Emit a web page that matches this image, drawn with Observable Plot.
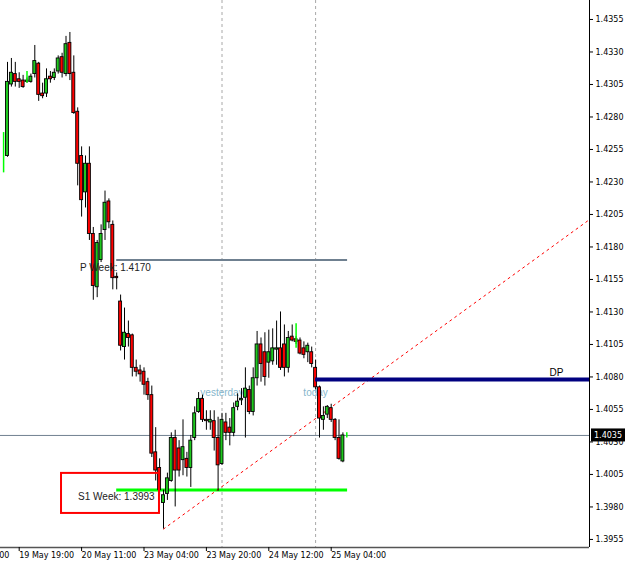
<!DOCTYPE html>
<html>
<head>
<meta charset="utf-8">
<script src="https://cdn.jsdelivr.net/npm/d3@7"></script>
<script src="https://cdn.jsdelivr.net/npm/@observablehq/plot@0.6"></script>
<style>
  html, body { margin: 0; padding: 0; background: #fff; }
  #chart svg { display: block; }
</style>
</head>
<body>
<div id="chart"></div>
<script>
// ---- hourly candles (bar index 0..86) ----
const opens  = [1.4250,1.4305,1.4313,1.4309,1.4308,1.4307,1.4307,1.4313,1.4321,1.4298,
                1.4298,1.4311,1.4310,1.4315,1.4326,1.4313,1.4337,1.4314,1.4284,1.4250,
                1.4222,1.4244,1.4190,1.4149,1.4170,1.4193,1.4215,1.4197,1.4157,1.4138,
                1.4103,1.4113,1.4112,1.4087,1.4085,1.4084,1.4076,1.4066,1.4022,1.4010,
                1.3983,1.3990,1.4000,1.4033,1.4025,1.4016,1.4017,1.4010,1.4033,1.4053,
                1.4063,1.4047,1.4045,1.4046,1.4033,1.4013,1.4045,1.4041,1.4037,1.4057,
                1.4062,1.4064,1.4070,1.4053,1.4079,1.4105,1.4099,1.4091,1.4092,1.4101,
                1.4102,1.4105,1.4087,1.4111,1.4109,1.4108,1.4102,1.4099,1.4099,1.4087,
                1.4072,1.4047,1.4051,1.4056,1.4047,1.4033,1.4015];
const highs  = [1.4322,1.4325,1.4322,1.4314,1.4312,1.4310,1.4313,1.4335,1.4322,1.4306,
                1.4317,1.4315,1.4317,1.4327,1.4329,1.4342,1.4345,1.4327,1.4287,1.4257,
                1.4250,1.4257,1.4195,1.4185,1.4197,1.4223,1.4217,1.4200,1.4160,1.4143,
                1.4133,1.4123,1.4113,1.4093,1.4089,1.4087,1.4079,1.4073,1.4041,1.4017,
                1.3993,1.4006,1.4037,1.4039,1.4031,1.4047,1.4022,1.4035,1.4057,1.4068,
                1.4066,1.4054,1.4054,1.4054,1.4049,1.4052,1.4052,1.4048,1.4060,1.4067,
                1.4071,1.4087,1.4073,1.4087,1.4115,1.4110,1.4114,1.4116,1.4117,1.4123,
                1.4130,1.4120,1.4115,1.4120,1.4111,1.4110,1.4107,1.4106,1.4103,1.4093,
                1.4073,1.4057,1.4058,1.4059,1.4048,1.4047,1.4037];
const lows   = [1.4249,1.4303,1.4303,1.4302,1.4302,1.4306,1.4306,1.4310,1.4292,1.4294,
                1.4295,1.4306,1.4308,1.4313,1.4310,1.4311,1.4308,1.4282,1.4227,1.4203,
                1.4210,1.4185,1.4139,1.4141,1.4168,1.4185,1.4194,1.4147,1.4147,1.4100,
                1.4093,1.4103,1.4080,1.4080,1.4076,1.4066,1.4062,1.4018,1.4000,1.3989,
                1.3963,1.3985,1.3999,1.3980,1.4003,1.4004,1.4003,1.3995,1.4031,1.4052,
                1.4045,1.4039,1.4039,1.4023,1.3992,1.4012,1.4031,1.4027,1.4034,1.4054,
                1.4058,1.4033,1.4051,1.4050,1.4073,1.4076,1.4073,1.4079,1.4089,1.4089,
                1.4085,1.4080,1.4083,1.4107,1.4105,1.4097,1.4094,1.4091,1.4087,1.4070,
                1.4033,1.4039,1.4048,1.4045,1.4031,1.4016,1.4014];
const closes = [1.4307,1.4314,1.4307,1.4307,1.4303,1.4308,1.4311,1.4323,1.4297,1.4296,
                1.4309,1.4309,1.4314,1.4325,1.4314,1.4336,1.4313,1.4283,1.4244,1.4216,
                1.4244,1.4190,1.4150,1.4183,1.4190,1.4214,1.4199,1.4156,1.4156,1.4104,
                1.4114,1.4110,1.4087,1.4084,1.4082,1.4074,1.4066,1.4021,1.4008,1.3993,
                1.3989,1.4002,1.4033,1.4008,1.4008,1.4026,1.4010,1.4031,1.4052,1.4063,
                1.4047,1.4046,1.4047,1.4033,1.4012,1.4047,1.4037,1.4037,1.4056,1.4061,
                1.4063,1.4071,1.4053,1.4079,1.4105,1.4090,1.4080,1.4099,1.4102,1.4102,
                1.4087,1.4087,1.4110,1.4108,1.4107,1.4098,1.4097,1.4104,1.4090,1.4072,
                1.4048,1.4050,1.4057,1.4047,1.4033,1.4017,1.4035];

// ---- time axis ----
const timeTickBars   = [-13.6, 3, 19, 35, 51, 67, 83];
const timeTickLabels = ["19 May 03:00","19 May 19:00","20 May 11:00","23 May 04:00","23 May 20:00","24 May 12:00","25 May 04:00"];

// ---- price axis ----
const priceTicks = [1.3955,1.3980,1.4005,1.4030,1.4055,1.4080,1.4105,1.4130,1.4155,1.4180,1.4205,1.4230,1.4255,1.4280,1.4305,1.4330,1.4355];
const currentPrice = 1.4035;

// ---- day separators ----
const separatorBars   = [55, 79];
const separatorLabels = ["yesterday", "today"];

// ---- levels ----
const levelNames  = ["P Week", "S1 Week"];
const levelPrices = [1.4170, 1.3993];
const levelFrom   = [28, 28];
const levelTo     = [87.2, 87.2];
const dpPrice = 1.4078;
const dpFrom  = 79;

// ---- trend line (two anchor points: bar index, price) ----
const trendBars   = [40, 149.2];
const trendPrices = [1.3963, 1.4201];

// ---- arrow markers (bar index, from price, to price) ----
const markerBars = [-1, 5, 74, 87];
const markerLow  = [1.4237, 1.4306, 1.4102, 1.4033];
const markerHigh = [1.4268, 1.4315, 1.4121, 1.4037];

// ---- build tables ----
const candles = opens.map((o, i) => ({i, o, h: highs[i], l: lows[i], c: closes[i]}));
const seps = separatorBars.map((b, k) => ({b, label: separatorLabels[k]}));
const levels = levelNames.map((n, k) => ({name: n, price: levelPrices[k], from: levelFrom[k], to: levelTo[k]}));
const trend = trendBars.map((b, k) => ({b, p: trendPrices[k]}));
const markers = markerBars.map((b, k) => ({b, lo: markerLow[k], hi: markerHigh[k]}));
const tickLabel = new Map(timeTickBars.map((b, k) => [b, timeTickLabels[k]]));

const W = 625, H = 564, mR = 36, mB = 17;
const xDomain = [-1.795, 149.23];
const yDomain = [1.39488, 1.43696];
const GREEN = "#1ec81e", RED = "#ff0000";
const LBL = "'Liberation Sans', Arial, sans-serif";
const levelText = d => `${d.name}: ${d.price.toFixed(4)}`;

const chart = Plot.plot({
  width: W, height: H,
  marginLeft: 0, marginRight: mR, marginTop: 0, marginBottom: mB,
  style: {fontFamily: "'DejaVu Sans', sans-serif", fontSize: "8px", background: "#fff", color: "#000"},
  x: {domain: xDomain, range: [0, W - mR], axis: null},
  y: {domain: yDomain, axis: null},
  marks: [
    // current price line
    Plot.ruleY([currentPrice], {stroke: "#708090", strokeWidth: 1}),
    // day separators
    Plot.ruleX(seps, {x: "b", stroke: "#a8a8a8", strokeWidth: 1, strokeDasharray: "3,3"}),
    Plot.text(seps, {x: "b", y: () => 1.4068, text: "label", fill: "#86b6cc", fontFamily: LBL, fontSize: 10}),
    // weekly levels
    Plot.ruleY(levels.slice(0,1), {y: "price", x1: "from", x2: "to", stroke: "#6f8090", strokeWidth: 2}),
    Plot.ruleY(levels.slice(1,2), {y: "price", x1: "from", x2: "to", stroke: "#00ff00", strokeWidth: 3}),
    // trend line
    Plot.line(trend, {x: "b", y: "p", stroke: "#ff0000", strokeWidth: 1, strokeDasharray: "2,4"}),
    // candle wicks
    Plot.ruleX(candles, {x: "i", y1: "l", y2: "h", stroke: "#000", strokeWidth: 1}),
    // candle bodies
    Plot.rect(candles, {x1: d => d.i - 0.38, x2: d => d.i + 0.38, y1: "o", y2: "c",
      fill: d => d.c >= d.o ? GREEN : RED, stroke: "#000", strokeWidth: 0.9}),
    // DP line
    Plot.ruleY([dpPrice], {x1: dpFrom, x2: xDomain[1], stroke: "#000080", strokeWidth: 4}),
    Plot.text([dpPrice], {x: 139, y: d => d, text: () => "DP", dy: -7, textAnchor: "start", fontFamily: LBL, fontSize: 10, fill: "#000"}),
    // arrow markers
    Plot.ruleX(markers, {x: "b", y1: "lo", y2: "hi", stroke: "#00ff00", strokeWidth: 1.5}),
    // S1 red box
    Plot.rect([levels[1]], {x1: 13.85, x2: 38.97, y1: d => d.price + 0.00128, y2: d => d.price - 0.0018,
      fill: "none", stroke: "#ff0000", strokeWidth: 2}),
    // level labels
    Plot.text(levels.slice(0,1), {x: d => d.from - 9.4, y: "price", text: levelText, textAnchor: "start",
      dy: 8, fontFamily: LBL, fontSize: 10, fill: "#222"}),
    Plot.text(levels.slice(1,2), {x: d => d.from - 9.9, y: "price", text: levelText, textAnchor: "start",
      dy: 7, fontFamily: LBL, fontSize: 10, fill: "#222"}),
    // axis lines
    Plot.ruleX([xDomain[1]], {stroke: "#000", strokeWidth: 1}),
    Plot.ruleY([yDomain[0]], {stroke: "#555", strokeWidth: 1.5}),
    // axes
    Plot.axisY(priceTicks, {anchor: "right", tickSize: 3, tickPadding: 3, tickFormat: d => d.toFixed(4), fontSize: 8}),
    Plot.axisX(timeTickBars, {anchor: "bottom", tickSize: 4, tickPadding: 1, textAnchor: "start", dx: 0,
      tickFormat: d => tickLabel.get(d), fontSize: 8})
  ]
});

// current price tag on the price scale
const ys = chart.scale("y"), xs = chart.scale("x");
const yy = ys.apply(currentPrice);
const x0 = xs.range[1] + 2;
const svg = d3.select(chart);
svg.append("rect").attr("x", x0).attr("y", yy - 6.5).attr("width", W - x0).attr("height", 13).attr("fill", "#000");
svg.append("text").attr("x", x0 + 3).attr("y", yy).attr("dy", "0.35em").attr("text-anchor", "start")
  .attr("fill", "#fff").attr("font-size", 8).attr("font-family", "'DejaVu Sans', sans-serif")
  .text(currentPrice.toFixed(4));

document.getElementById("chart").appendChild(chart);
</script>
</body>
</html>
